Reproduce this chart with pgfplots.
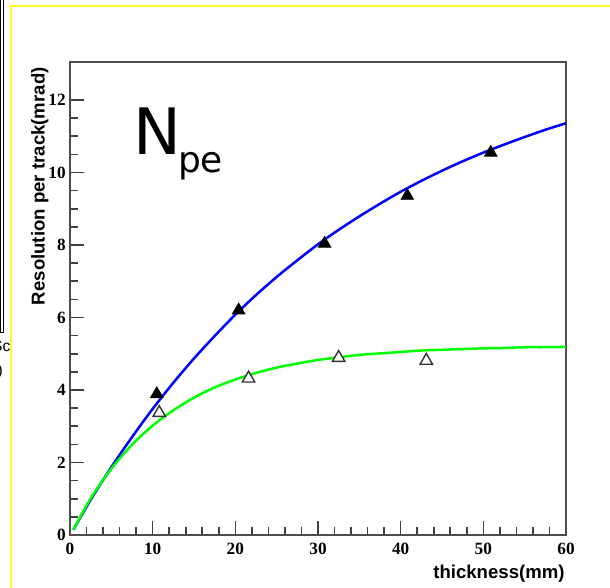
\documentclass[border=0pt]{standalone}
\usepackage{fontspec}
\setmainfont{Liberation Serif}
\newfontfamily\labelfont{Liberation Sans}
\newfontfamily\npefont{DejaVu Sans}
\usepackage{pgfplots}
\pgfplotsset{compat=1.18}

\definecolor{frameyellow}{RGB}{255,255,40}
\definecolor{fitblue}{RGB}{0,0,255}
\definecolor{fitgreen}{RGB}{0,255,0}

\begin{document}
\begin{tikzpicture}
% page: 610 x 588 units of 0.5pt
\path[use as bounding box, fill=white] (0,0) rectangle (305pt,294pt);

\begin{scope}
\clip (0,0) rectangle (305pt,294pt);
% neighbouring box edge and cut-off text on the left
\draw[black, line width=0.5pt] (0.3pt,294pt) -- (0.3pt,127.5pt);
\draw[black, line width=0.5pt] (1.6pt,294pt) -- (1.6pt,127.5pt) -- (0pt,127.5pt);
\begin{scope}
\clip (0,0) rectangle (5.5pt,294pt);
\node[anchor=base east, inner sep=0pt, font=\labelfont\fontsize{7.8}{9}\selectfont] at (5.4pt,118pt) {Sc};
\node[anchor=base east, inner sep=0pt, font=\labelfont\fontsize{7.8}{9}\selectfont] at (1.6pt,106pt) {)};
\end{scope}
% slide frame
\draw[frameyellow, line width=1.2pt] (5.5pt,-5pt) -- (5.5pt,291pt) -- (320pt,291pt);
\end{scope}

\begin{axis}[
  at={(35pt,26.5pt)}, anchor=south west,
  scale only axis, width=248pt, height=236.5pt,
  xmin=0, xmax=60, ymin=0, ymax=13.05,
  xtick={0,10,...,60}, ytick={0,2,...,12},
  minor x tick num=4, minor y tick num=3,
  tick align=inside, tick pos=left,
  major tick length=7pt, minor tick length=3.8pt,
  axis line style={draw=black!70, line width=0.75pt},
  every tick/.append style={black!75, line width=0.8pt},
  /pgf/number format/assume math mode=true,
  ticklabel style={font=\bfseries\fontsize{8.6}{9}\selectfont},
  xticklabel style={inner sep=0pt, yshift=-4pt},
  yticklabel style={inner sep=0pt, xshift=-2pt},
  clip=true,
]
% fitted curves
\addplot[fitblue, line width=1.25pt, smooth] coordinates {
 (0.4,0.14) (2.5,0.97) (5,1.87) (7.5,2.70) (10,3.48) (12.5,4.20) (15,4.87)
 (17.5,5.49) (20,6.08) (22.5,6.62) (25,7.12) (27.5,7.58) (30,8.02)
 (32.5,8.42) (35,8.79) (37.5,9.14) (40,9.47) (42.5,9.77) (45,10.05)
 (47.5,10.31) (50,10.55) (52.5,10.77) (55,10.98) (57.5,11.18) (60,11.36)
};
\addplot[fitgreen, line width=1.25pt, smooth] coordinates {
 (0.4,0.14) (2.5,1.01) (5,1.83) (7.5,2.49) (10,3.02) (12.5,3.44) (15,3.79)
 (17.5,4.07) (20,4.29) (22.5,4.47) (25,4.62) (27.5,4.73) (30,4.83)
 (32.5,4.90) (35,4.97) (37.5,5.01) (40,5.05) (42.5,5.09) (45,5.11)
 (47.5,5.13) (50,5.15) (52.5,5.16) (55,5.18) (57.5,5.18) (60,5.19)
};
% measured points
\addplot[only marks, mark=triangle*, mark size=3.6pt,
  mark options={fill=black, draw=black}] coordinates {
 (10.5,3.89) (20.4,6.20) (30.8,8.04) (40.8,9.36) (50.9,10.55)
};
\addplot[only marks, mark=triangle*, mark size=3.6pt,
  mark options={fill=white, draw=black!80, line width=0.7pt}] coordinates {
 (10.8,3.37) (21.6,4.32) (32.5,4.89) (43.1,4.81)
};
\end{axis}

% axis titles
\node[anchor=base east, inner sep=0pt, font=\labelfont\bfseries\fontsize{9.3}{11}\selectfont]
  at (282.5pt,4.5pt) {thickness(mm)};
\node[anchor=base east, inner sep=0pt, rotate=90, font=\labelfont\bfseries\fontsize{9.3}{11}\selectfont]
  at (22.3pt,260.5pt) {Resolution per track(mrad)};

% panel tag
\node[anchor=base west, inner sep=0pt] at (66.4pt,216.5pt)
  {\npefont\fontsize{32}{32}\selectfont N\kern-1.5pt\raisebox{-8.85pt}{\fontsize{18}{18}\selectfont pe}};
\end{tikzpicture}
\end{document}
